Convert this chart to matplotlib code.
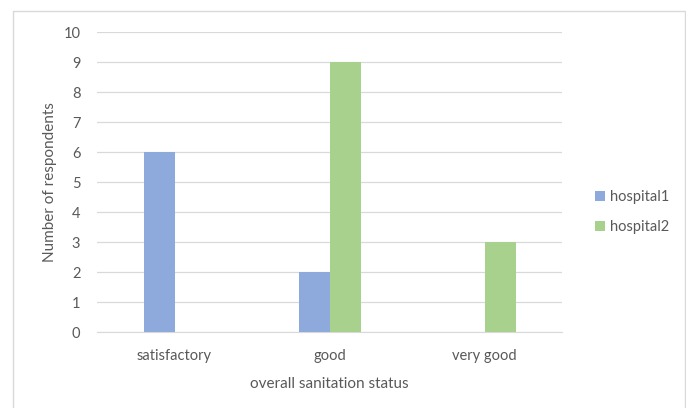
import matplotlib
matplotlib.use("Agg")
import matplotlib.pyplot as plt
from matplotlib.patches import Rectangle
import numpy as np

categories = ["satisfactory", "good", "very good"]
hospital1 = [6, 2, 0]
hospital2 = [0, 9, 3]
series_names = ["hospital1", "hospital2"]
colors = ["#8EA9DB", "#A9D18E"]
text_color = "#595959"

plt.rcParams['font.family'] = ['Lato', 'DejaVu Sans']

fig = plt.figure(figsize=(6.86, 4.08), dpi=100)
ax = fig.add_axes([97/686, 76/408, 465/686, 300/408])

x = np.arange(len(categories))
w = 0.2
ax.bar(x - w/2, hospital1, width=w, color=colors[0], label=series_names[0], zorder=3)
ax.bar(x + w/2, hospital2, width=w, color=colors[1], label=series_names[1], zorder=3)

ax.set_xlim(-0.5, 2.5)
ax.set_ylim(0, 10)
ax.set_yticks(range(0, 11))
ax.set_xticks(x)
ax.set_xticklabels(categories)
ax.grid(axis='y', color='#D9D9D9', linewidth=0.9, zorder=0)
for s in ['top', 'right', 'left']:
    ax.spines[s].set_visible(False)
ax.spines['bottom'].set_color('#D9D9D9')
ax.tick_params(axis='both', length=0, colors=text_color, labelsize=10.5)
ax.tick_params(axis='x', pad=12)
ax.tick_params(axis='y', pad=12)
ax.set_xlabel("overall sanitation status", color=text_color, fontsize=11, labelpad=10)
ax.set_ylabel("Number of respondents", color=text_color, fontsize=11)
ax.yaxis.set_label_coords(-0.085, 0.5)

leg = fig.legend(loc='center left', bbox_to_anchor=(582/686, 1 - 212/408), frameon=False,
                 fontsize=10.5, handlelength=0.7, handleheight=0.7, handletextpad=0.3,
                 labelspacing=1.1, labelcolor=text_color)

fig.patches.append(Rectangle((13/686, -0.05), 672/686, 1.05 - 11/408, transform=fig.transFigure,
                             fill=False, edgecolor='#D9D9D9', linewidth=1.0))

fig.savefig("out.png", dpi=100)
